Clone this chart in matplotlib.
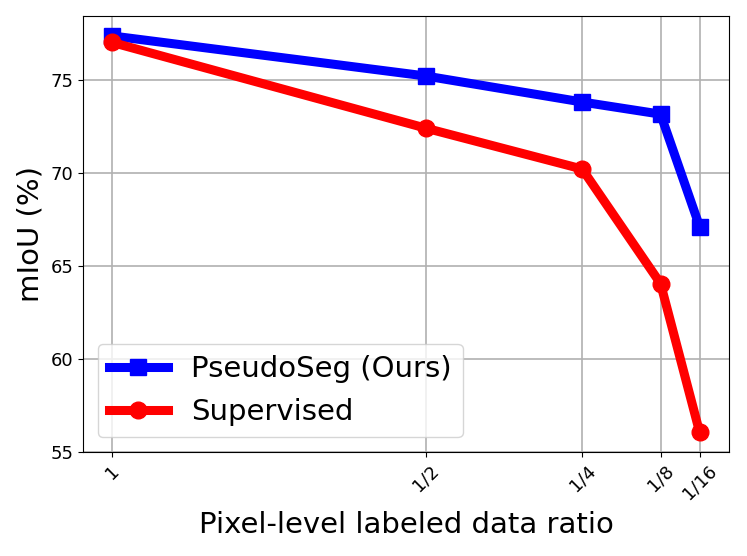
import matplotlib.pyplot as plt

ratios = [1, 1/2, 1/4, 1/8, 1/16]
tick_labels = ['1', '1/2', '1/4', '1/8', '1/16']
pseudoseg = [77.35, 75.2, 73.8, 73.15, 67.1]
supervised = [77.0, 72.4, 70.2, 64.05, 56.05]

fig = plt.figure(figsize=(7.47, 5.56), dpi=100)
ax = fig.add_subplot()
ax.plot(ratios, pseudoseg, color='blue', marker='s', lw=6.5, ms=12, label='PseudoSeg (Ours)')
ax.plot(ratios, supervised, color='red', marker='o', lw=6.5, ms=12, label='Supervised')
ax.invert_xaxis()
ax.set_xticks(ratios)
ax.set_xticklabels(tick_labels, rotation=45, fontsize=13)
ax.set_yticks([55, 60, 65, 70, 75])
ax.tick_params(axis='y', labelsize=13)
ax.set_ylim(bottom=55)
ax.set_xlabel('Pixel-level labeled data ratio', fontsize=21, labelpad=6)
ax.set_ylabel('mIoU (%)', fontsize=21)
ax.grid(lw=1.2)
ax.legend(fontsize=21, loc='lower left')
plt.subplots_adjust(left=0.111, right=0.976, top=0.971, bottom=0.187)
plt.savefig('out.png', dpi=100)
